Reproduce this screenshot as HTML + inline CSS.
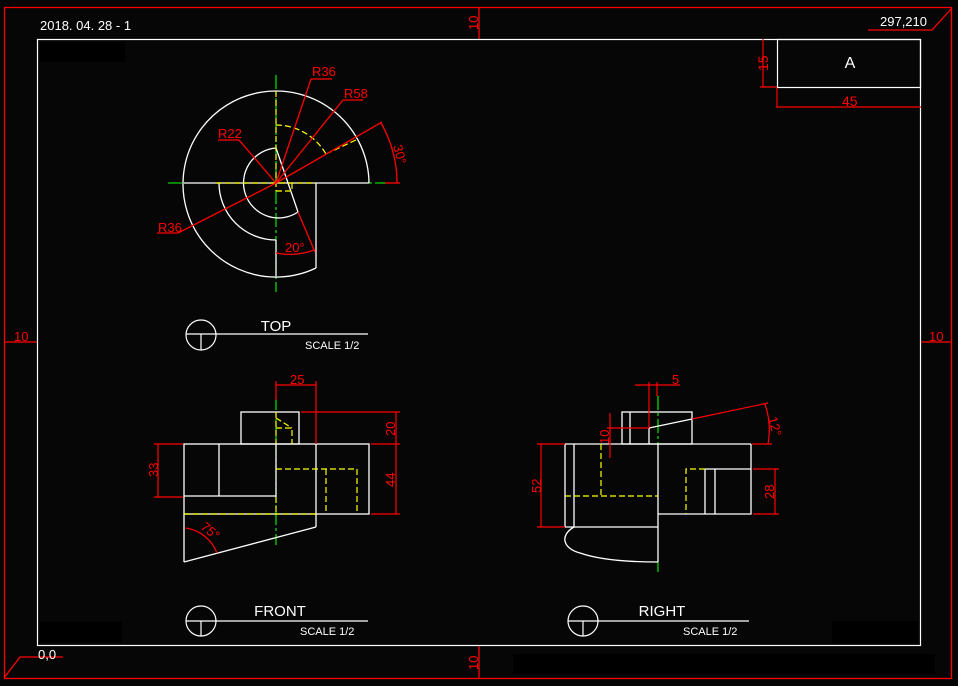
<!DOCTYPE html>
<html><head><meta charset="utf-8"><style>
html,body{margin:0;padding:0;background:#060606;}
svg{display:block;font-family:"Liberation Sans","DejaVu Sans",sans-serif;}
</style></head><body>
<svg width="958" height="686" viewBox="0 0 958 686" xmlns="http://www.w3.org/2000/svg">
<rect width="958" height="686" fill="#060606"/>
<rect x="40" y="42" width="85" height="20" fill="#000"/>
<rect x="40" y="622" width="82" height="20" fill="#000"/>
<rect x="832" y="621" width="86" height="22" fill="#000"/>
<rect x="513" y="654" width="422" height="20" fill="#000"/>
<g stroke="#ff0000" stroke-width="1.3" fill="none">
<rect x="4.5" y="7.5" width="947" height="671"/>
<line x1="479" y1="7" x2="479" y2="39"/><line x1="479" y1="645" x2="479" y2="679"/>
<line x1="4" y1="342" x2="37" y2="342"/><line x1="921" y1="342" x2="952" y2="342"/>
<polyline points="868,30 932,30 952,8"/>
<polyline points="4,678 20,657 63,657"/>
</g>
<g fill="#ff0000" font-size="13">
<text x="0" y="0" transform="translate(478,30) rotate(-90)">10</text>
<text x="0" y="0" transform="translate(478,670) rotate(-90)">10</text>
<text x="14" y="341">10</text><text x="929" y="341">10</text>
</g>
<g fill="#fff" font-size="13">
<text x="40" y="30">2018. 04. 28 - 1</text>
<text x="880" y="26">297,210</text>
<text x="38" y="659">0,0</text>
</g>
<rect x="37.5" y="39.5" width="883" height="606" fill="none" stroke="#fff" stroke-width="1.2"/>
<rect x="777.5" y="39.5" width="143" height="48" fill="none" stroke="#fff" stroke-width="1.2"/>
<text x="850" y="68" fill="#fff" font-size="16" text-anchor="middle">A</text>
<g stroke="#ff0000" stroke-width="1.2" fill="none">
<line x1="763" y1="39" x2="763" y2="87"/><line x1="760" y1="87" x2="777" y2="87"/>
<line x1="777" y1="88" x2="777" y2="108"/><line x1="777" y1="107" x2="921" y2="107"/>
</g>
<g fill="#ff0000" font-size="14">
<text transform="translate(768,71) rotate(-90)">15</text>
<text x="842" y="106">45</text>
</g>

<!-- TOP VIEW -->
<g stroke="#00ff00" stroke-width="1.1" stroke-dasharray="14,3,3,3" fill="none">
<line x1="276" y1="75" x2="276" y2="292"/>
<line x1="168" y1="183" x2="386" y2="183"/>
</g>
<g stroke="#fff" stroke-width="1.3" fill="none">
<path d="M369,183 A93,93 0 1 0 316,268"/>
<line x1="184" y1="183" x2="369" y2="183"/>
<line x1="316" y1="183" x2="316" y2="268"/>
<path d="M219,183 A57,57 0 0 0 276,240"/>
<path d="M276,148 A35,35 0 1 0 298,212"/>
<line x1="276" y1="148" x2="298" y2="212"/>
<line x1="276" y1="240" x2="276" y2="276"/>
</g>
<g stroke="#ffff00" stroke-width="1.2" stroke-dasharray="6,3" fill="none">
<line x1="276" y1="91" x2="276" y2="191"/>
<path d="M276,125 A58,58 0 0 1 326,154"/>
<line x1="326" y1="154" x2="358" y2="139"/>
<line x1="216" y1="183" x2="316" y2="183"/>
<line x1="276" y1="191" x2="292" y2="191"/><line x1="292" y1="183" x2="292" y2="191"/>
</g>
<g stroke="#ff0000" stroke-width="1.3" fill="none">
<polyline points="276,183 311,79 332,79"/>
<polyline points="276,183 343,100 363,100"/>
<polyline points="276,183 239,140 218,140"/>
<polyline points="276,183 178,233 157,233"/>
<line x1="276" y1="183" x2="382" y2="122"/>
<path d="M381,123 A121,121 0 0 1 397,183"/>
<line x1="385" y1="183" x2="400" y2="183"/>
<line x1="298" y1="212" x2="315" y2="252"/>
<path d="M276,253 A70,70 0 0 0 314,250"/>
</g>
<g fill="#ff0000" font-size="13">
<text x="312" y="76">R36</text><text x="344" y="98">R58</text>
<text x="218" y="138">R22</text><text x="158" y="232">R36</text>
<text transform="translate(393,146) rotate(75)">30°</text>
<text x="285" y="252">20°</text>
</g>
<g stroke="#fff" stroke-width="1.2" fill="none">
<circle cx="201" cy="335" r="15"/>
<line x1="186" y1="334" x2="368" y2="334"/><line x1="201" y1="334" x2="201" y2="350"/>
</g>
<text x="276" y="331" fill="#fff" font-size="15" text-anchor="middle">TOP</text>
<text x="305" y="349" fill="#fff" font-size="11">SCALE 1/2</text>

<!-- FRONT VIEW -->
<g stroke="#00ff00" stroke-width="1.1" stroke-dasharray="14,3,3,3" fill="none">
<line x1="276" y1="396" x2="276" y2="545"/>
</g>
<g stroke="#fff" stroke-width="1.3" fill="none">
<rect x="184" y="444" width="185" height="70"/>
<rect x="241" y="412" width="58" height="32"/>
<line x1="219" y1="444" x2="219" y2="496"/>
<line x1="184" y1="496" x2="276" y2="496"/>
<line x1="276" y1="444" x2="276" y2="497"/>
<line x1="316" y1="444" x2="316" y2="527"/>
<line x1="184" y1="514" x2="184" y2="562"/>
<line x1="184" y1="562" x2="316" y2="527"/>
</g>
<g stroke="#ffff00" stroke-width="1.2" stroke-dasharray="6,3" fill="none">
<line x1="184" y1="514" x2="316" y2="514"/>
<line x1="276" y1="497" x2="276" y2="514"/>
<polyline points="276,469 357,469 357,514"/>
<line x1="326" y1="469" x2="326" y2="514"/>
<line x1="276" y1="418" x2="292" y2="428"/>
<polyline points="276,428 292,428 292,444"/>
<line x1="276" y1="412" x2="276" y2="444"/>
</g>
<g stroke="#ff0000" stroke-width="1.2" fill="none">
<line x1="276" y1="381" x2="276" y2="400"/><line x1="316" y1="381" x2="316" y2="444"/>
<line x1="276" y1="385" x2="316" y2="385"/>
<line x1="301" y1="412" x2="400" y2="412"/><line x1="371" y1="444" x2="400" y2="444"/><line x1="371" y1="514" x2="400" y2="514"/>
<line x1="396" y1="412" x2="396" y2="514"/>
<line x1="154" y1="444" x2="183" y2="444"/><line x1="154" y1="497" x2="183" y2="497"/>
<line x1="158" y1="444" x2="158" y2="497"/>
<path d="M186,528 A40,40 0 0 1 217,553"/>
</g>
<g fill="#ff0000" font-size="13">
<text x="290" y="384">25</text>
<text transform="translate(395,436) rotate(-90)">20</text>
<text transform="translate(395,487) rotate(-90)">44</text>
<text transform="translate(158,477) rotate(-90)">33</text>
<text transform="translate(200,528) rotate(40)">75°</text>
</g>
<g stroke="#fff" stroke-width="1.2" fill="none">
<circle cx="201" cy="621" r="15"/>
<line x1="186" y1="621" x2="368" y2="621"/><line x1="201" y1="621" x2="201" y2="636"/>
<circle cx="583" cy="621" r="15"/>
<line x1="568" y1="621" x2="749" y2="621"/><line x1="583" y1="621" x2="583" y2="636"/>
</g>
<text x="280" y="616" fill="#fff" font-size="15" text-anchor="middle">FRONT</text>
<text x="300" y="635" fill="#fff" font-size="11">SCALE 1/2</text>
<text x="662" y="616" fill="#fff" font-size="15" text-anchor="middle">RIGHT</text>
<text x="683" y="635" fill="#fff" font-size="11">SCALE 1/2</text>

<!-- RIGHT VIEW -->
<g stroke="#00ff00" stroke-width="1.1" stroke-dasharray="14,3,3,3" fill="none">
<line x1="658" y1="396" x2="658" y2="444"/><line x1="658" y1="562" x2="658" y2="572"/>
</g>
<g stroke="#fff" stroke-width="1.3" fill="none">
<line x1="565" y1="444" x2="751" y2="444"/>
<line x1="565" y1="444" x2="565" y2="527"/>
<line x1="574" y1="444" x2="574" y2="527"/>
<line x1="565" y1="527" x2="658" y2="527"/>
<line x1="658" y1="444" x2="658" y2="562"/>
<polyline points="658,514 751,514 751,444"/>
<path d="M574,527 C560,535 562,548 580,553 C600,560 630,562 658,562"/>
<rect x="622" y="412" width="70" height="32"/>
<line x1="630" y1="412" x2="630" y2="444"/>
<line x1="649" y1="428" x2="649" y2="444"/>
<line x1="649" y1="428" x2="692" y2="419"/>
<line x1="705" y1="469" x2="751" y2="469"/>
<line x1="705" y1="469" x2="705" y2="514"/><line x1="715" y1="469" x2="715" y2="514"/>
</g>
<g stroke="#ffff00" stroke-width="1.2" stroke-dasharray="6,3" fill="none">
<line x1="601" y1="444" x2="601" y2="496"/>
<line x1="565" y1="496" x2="658" y2="496"/>
<polyline points="705,469 686,469 686,514"/>
</g>
<g stroke="#ff0000" stroke-width="1.2" fill="none">
<line x1="649" y1="382" x2="649" y2="428"/><line x1="657" y1="382" x2="657" y2="396"/>
<line x1="635" y1="385" x2="680" y2="385"/>
<line x1="607" y1="428" x2="649" y2="428"/>
<line x1="610" y1="413" x2="610" y2="458"/>
<line x1="692" y1="419" x2="768" y2="403"/>
<path d="M765,404 A80,80 0 0 1 768,444"/>
<line x1="752" y1="444" x2="772" y2="444"/>
<line x1="537" y1="444" x2="565" y2="444"/><line x1="537" y1="527" x2="565" y2="527"/>
<line x1="541" y1="444" x2="541" y2="527"/>
<line x1="753" y1="469" x2="779" y2="469"/><line x1="753" y1="514" x2="779" y2="514"/>
<line x1="775" y1="469" x2="775" y2="514"/>
</g>
<g fill="#ff0000" font-size="13">
<text x="672" y="384">5</text>
<text transform="translate(609,444) rotate(-90)">10</text>
<text transform="translate(768,418) rotate(75)">12°</text>
<text transform="translate(541,493) rotate(-90)">52</text>
<text transform="translate(774,499) rotate(-90)">28</text>
</g>
</svg>
</body></html>
